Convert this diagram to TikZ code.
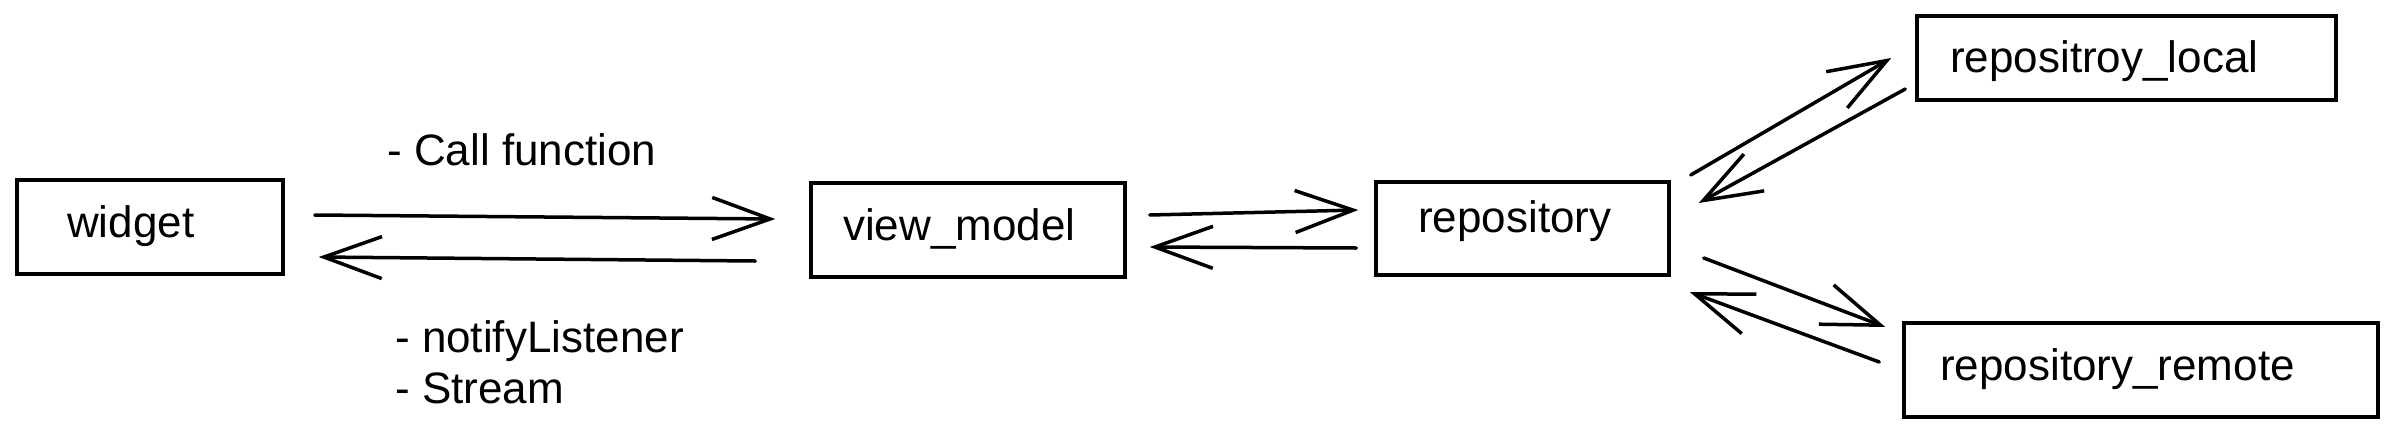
\documentclass[tikz,border=0pt]{standalone}
\usepackage{fontspec}
\setmainfont{Liberation Sans}
\usetikzlibrary{arrows.meta}
\begin{document}
\begin{tikzpicture}[x=1pt,y=-1pt,
  box/.style={draw=black, line width=3.5pt, rectangle, inner sep=0pt},
  lbl/.style={anchor=base west, inner sep=0pt, font=\fontsize{44}{51}\selectfont},
  arr/.style={line width=3.5pt, line cap=round, line join=round,
    -{Straight Barb[length=58pt,width=42pt,line width=3.5pt]}}
]
\fill[white] (0,0) rectangle (2399,440);
\useasboundingbox (0,0) rectangle (2399,440);

% boxes
\node[box, minimum width=266pt, minimum height=94pt] (widget) at (150,227) {};
\node[box, minimum width=314pt, minimum height=94pt] (vm) at (968,230) {};
\node[box, minimum width=293pt, minimum height=93pt] (repo) at (1522.5,228.5) {};
\node[box, minimum width=419pt, minimum height=84pt] (local) at (2126.5,58) {};
\node[box, minimum width=474pt, minimum height=94pt] (remote) at (2141,370) {};

% box texts
\node[lbl] (twidget) at (67,237) {widget};
\node[lbl] (tvm) at (843,240) {view\_model};
\node[lbl] (trepo) at (1418,232) {repository};
\node[lbl] (tlocal) at (1950,72) {repositroy\_local};
\node[lbl] (tremote) at (1940,380) {repository\_remote};

% labels
\node[lbl] (call) at (387,165) {- Call function};
\node[lbl] (notify) at (395,352) {- notifyListener};
\node[lbl] (stream) at (395,403) {- Stream};

% connectors
\draw[arr] ([shift={(30,-12)}]widget.east) -- ([shift={(-34,-11)}]vm.west);
\draw[arr] ([shift={(-54,31)}]vm.west) -- ([shift={(34,30)}]widget.east);
\draw[arr] ([shift={(23,-15)}]vm.east) -- ([shift={(-16,-18.5)}]repo.west);
\draw[arr] ([shift={(-18,19.5)}]repo.west) -- ([shift={(23,17)}]vm.east);
\draw[arr] ([shift={(20,-53.5)}]repo.east) -- ([shift={(-24,0)}]local.west);
\draw[arr] ([shift={(-10,31)}]local.west) -- ([shift={(28,-25.5)}]repo.east);
\draw[arr] ([shift={(33,29.5)}]repo.east) -- ([shift={(-17,-43)}]remote.west);
\draw[arr] ([shift={(-23,-8)}]remote.west) -- ([shift={(19,63.5)}]repo.east);
\end{tikzpicture}
\end{document}
